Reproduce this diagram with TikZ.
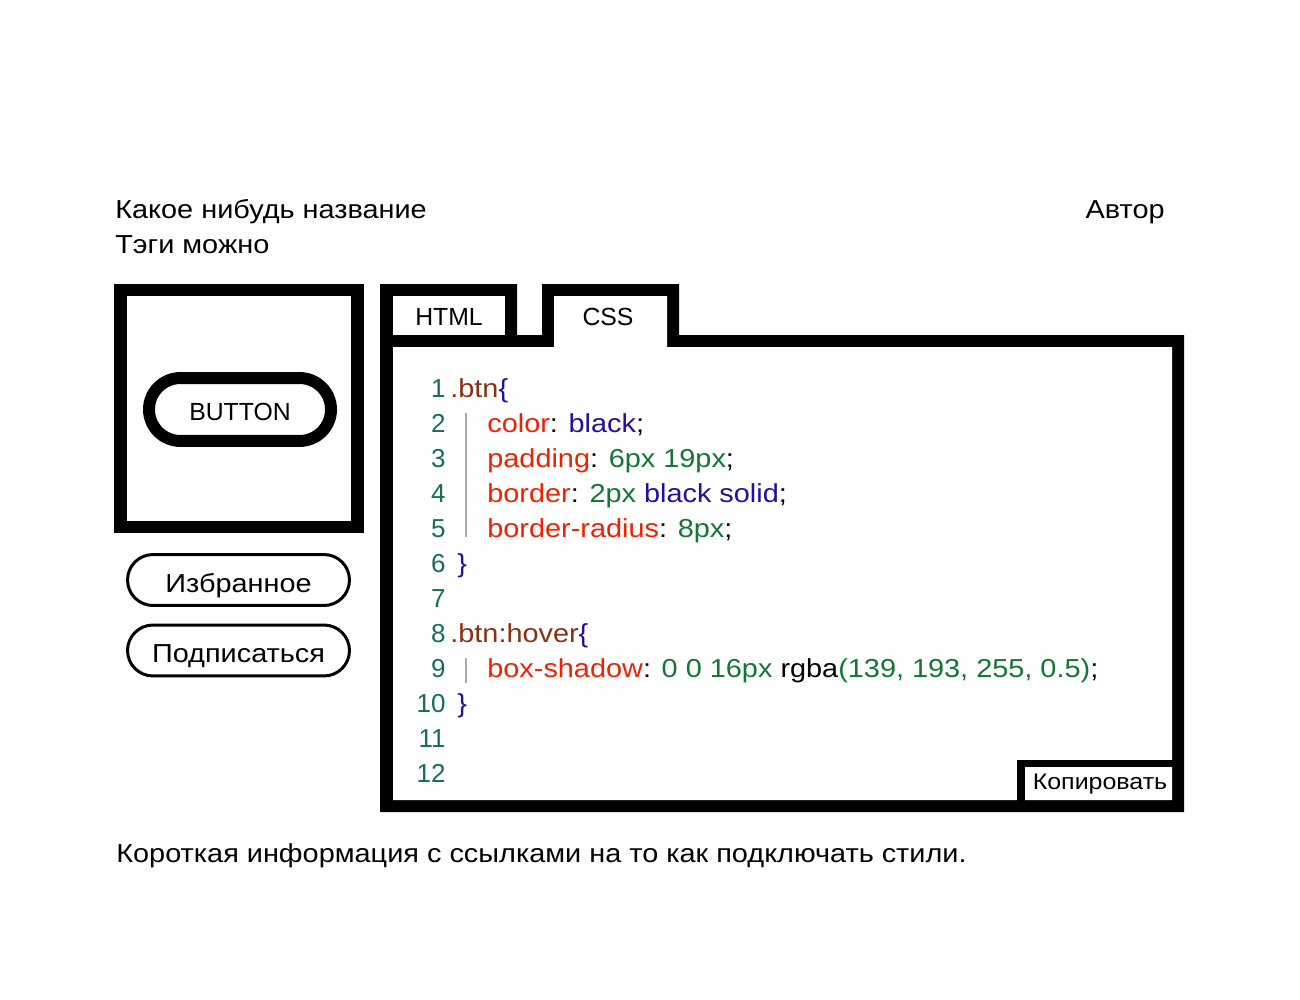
\documentclass[tikz,border=0pt]{standalone}
\usepackage{fontspec}
\setmainfont{Liberation Sans}[FakeStretch=1.11]
\newfontfamily\plainfont{Liberation Sans}
\usepackage{tikz}
\usetikzlibrary{calc}

\definecolor{numcol}{RGB}{22,110,90}
\definecolor{selcol}{RGB}{136,50,20}
\definecolor{brcol}{RGB}{34,17,153}
\definecolor{propcol}{RGB}{238,34,0}
\definecolor{valcol}{RGB}{17,119,51}
\definecolor{guidecol}{RGB}{170,170,170}

\newcommand\bigfont{\fontsize{14.8pt}{17pt}\selectfont}
\newcommand\tabfont{\plainfont\fontsize{14.1pt}{16pt}\selectfont}
\newcommand\copyfont{\fontsize{12.8pt}{14pt}\selectfont}

\newcommand\cssSel[1]{\textcolor{selcol}{#1}}
\newcommand\cssBr[1]{\textcolor{brcol}{#1}}
\newcommand\cssProp[1]{\textcolor{propcol}{#1}}
\newcommand\cssVal[1]{\textcolor{valcol}{#1}}
\newcommand\cssKw[1]{\textcolor{brcol}{#1}}

\tikzset{
  txt/.style={inner sep=0pt, anchor=base west, font=\bigfont},
  frame/.style={line width=7.1pt},
  bigpill/.style={draw, line width=6.8pt, rounded corners=17.9pt,
    minimum width=103.6pt, minimum height=35.8pt, inner sep=0pt,
    font=\tabfont, text height=11.95pt, text depth=0pt},
  smallpill/.style={draw, line width=1.7pt, rounded corners=14.5pt,
    minimum width=126.3pt, minimum height=29pt, inner sep=0pt,
    font=\bigfont, text height=14.1pt, text depth=0pt},
  num/.style={inner sep=0pt, anchor=base east, font=\plainfont\bigfont, text=numcol},
  code/.style={inner sep=0pt, anchor=base west, font=\bigfont},
  guide/.style={draw=guidecol, line width=0.6pt}
}

\begin{document}
\begin{tikzpicture}[x=0.2mm, y=-0.2mm]
        \useasboundingbox (0,0) rectangle (1300,1000);

        % header
        \node[txt] (title) at (115,218) {Какое нибудь название};
        \node[txt] (tags) at (115,253) {Тэги можно};
        \node[txt, anchor=base east] (author) at (1165,218) {Автор};

        % preview
        \draw[frame] (120.5,290) rectangle (357.5,527);
        \node[bigpill] (button) at (240,409.5) {BUTTON};
        \node[smallpill] (fav) at (238.5,580) {Избранное};
        \node[smallpill] (sub) at (238.5,650.5) {Подписаться};

        % code panel with tabs
        \fill (380,284) -| (517,335) -| (542,284) -| (679,335) -| (1184,812) -- (380,812) -- cycle;
        \fill[white] (393,296) rectangle (505,335);
        \fill[white] (393,347) -| (554,296) -| (667,347) -| (1172,800) -- (393,800) -- cycle;
        \node[inner sep=0pt, anchor=base, font=\tabfont] (html) at (449,325) {HTML};
        \node[inner sep=0pt, anchor=base, font=\tabfont] (css) at (608,325) {CSS};

        % line numbers
        \foreach \i in {1,...,12}
            \node[num] (n\i) at (446,{397+35*(\i-1)}) {\i};

        \draw[guide] (466,413) -- (466,537);
        \draw[guide] (466,658) -- (466,683);

        \node[code] (c1) at (450,397) {\cssSel{.btn}\cssBr{\{}};
        \node[code] (c2) at (487,432) {\cssProp{color}: \cssKw{black};};
        \node[code] (c3) at (487,467) {\cssProp{padding}: \cssVal{6px 19px};};
        \node[code] (c4) at (487,502) {\cssProp{border}: \cssVal{2px} \cssKw{black solid};};
        \node[code] (c5) at (487,537) {\cssProp{border-radius}: \cssVal{8px};};
        \node[code] (c6) at (457,572) {\cssBr{\}}};
        \node[code] (c8) at (450,642) {\cssSel{.btn:hover}\cssBr{\{}};
        \node[code] (c9) at (487,677) {\cssProp{box-shadow}: \cssVal{0 0 16px} rgba\cssVal{(139, 193, 255, 0.5)};};
        \node[code] (c10) at (457,712) {\cssBr{\}}};

        % copy button
        \draw[line width=4.3pt] (1021,763.5) rectangle (1180,806);
        \node[inner sep=0pt, anchor=base, font=\copyfont] (copy) at (1100,789) {Копировать};

        % footer
        \node[txt] (info) at (116,862) {Короткая информация с ссылками на то как подключать стили.};
\end{tikzpicture}
\end{document}
